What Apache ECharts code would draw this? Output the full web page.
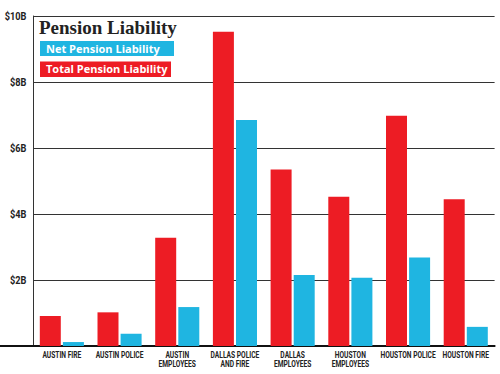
<!DOCTYPE html>
<html>
<head>
<meta charset="utf-8">
<script src="https://cdn.jsdelivr.net/npm/echarts@6/dist/echarts.min.js"></script>
<style>
html,body{margin:0;padding:0;background:#fff;}
#chart{width:500px;height:374px;}
</style>
</head>
<body>
<div id="chart"></div>
<script>
const categories = ['AUSTIN FIRE', 'AUSTIN POLICE', 'AUSTIN\nEMPLOYEES', 'DALLAS POLICE\nAND FIRE', 'DALLAS\nEMPLOYEES', 'HOUSTON\nEMPLOYEES', 'HOUSTON POLICE', 'HOUSTON FIRE'];
const totalPensionLiability = [0.91, 1.02, 3.28, 9.52, 5.35, 4.52, 6.98, 4.45];
const netPensionLiability = [0.12, 0.37, 1.18, 6.85, 2.15, 2.07, 2.68, 0.58];
const yTickValues = [2, 4, 6, 8, 10];
const yTickLabels = ['$2B', '$4B', '$6B', '$8B', '$10B'];
const titleText = 'Pension Liability';
const legendNet = 'Net Pension Liability';
const legendTotal = 'Total Pension Liability';

const RED = '#ED1C24';
const BLUE = '#1FB5E1';

const chart = echarts.init(document.getElementById('chart'), null, {renderer: 'svg'});
chart.setOption({
  animation: false,
  backgroundColor: '#fff',
  grid: {left: 33, right: 5.4, top: 16, bottom: 28, containLabel: false, outerBoundsMode: 'none'},
  xAxis: {
    type: 'category',
    data: categories,
    axisLine: {show: true, lineStyle: {color: '#111', width: 2}},
    axisTick: {show: false},
    axisLabel: {show: false}
  },
  yAxis: {
    type: 'value', min: 0, max: 10, interval: 2,
    axisLine: {show: true, lineStyle: {color: '#333', width: 1}},
    axisTick: {show: false},
    splitLine: {lineStyle: {color: '#333', width: 1}},
    axisLabel: {show: false}
  },
  series: [
    {name: legendTotal, type: 'bar', data: totalPensionLiability, barWidth: 21, barGap: '10%',
     itemStyle: {color: RED}},
    {name: legendNet, type: 'bar', data: netPensionLiability, barWidth: 21, barGap: '10%',
     itemStyle: {color: BLUE}}
  ]
});

const y0 = chart.convertToPixel({yAxisIndex: 0}, 0);
const graphics = [
  {type: 'line', shape: {x1: 0, y1: y0, x2: 34, y2: y0}, style: {stroke: '#111', lineWidth: 2}},
  {type: 'text', x: 39, y: 17.5,
   style: {text: titleText, font: 'bold 19px "Liberation Serif", serif', fill: '#222'}},
  {type: 'rect', shape: {x: 40, y: 41, width: 134, height: 15}, style: {fill: BLUE}},
  {type: 'text', x: 46, y: 42.5,
   style: {text: legendNet, font: 'bold 11px "Open Sans", "Liberation Sans", sans-serif', fill: '#fff'}},
  {type: 'rect', shape: {x: 40, y: 61.5, width: 131, height: 15.5}, style: {fill: RED}},
  {type: 'text', x: 46, y: 63,
   style: {text: legendTotal, font: 'bold 11px "Open Sans", "Liberation Sans", sans-serif', fill: '#fff'}}
];
// category labels, positioned from the category axis, horizontally condensed
categories.forEach((c, i) => {
  const cx = chart.convertToPixel({xAxisIndex: 0}, i);
  graphics.push({
    type: 'text', x: cx, y: y0 + 5, scaleX: 0.74, scaleY: 1,
    style: {text: c, font: 'bold 9px Roboto, sans-serif', fill: '#222',
            align: 'center', verticalAlign: 'top', lineHeight: 8.5}
  });
});
// value-axis labels, positioned from the value axis
yTickValues.forEach((v, i) => {
  const yy = chart.convertToPixel({yAxisIndex: 0}, v);
  graphics.push({
    type: 'text', x: 26.5, y: yy, scaleX: 0.8, scaleY: 1,
    style: {text: yTickLabels[i], font: 'bold 11.5px Roboto, sans-serif', fill: '#222',
            align: 'right', verticalAlign: 'middle'}
  });
});
chart.setOption({graphic: graphics});
</script>
</body>
</html>
